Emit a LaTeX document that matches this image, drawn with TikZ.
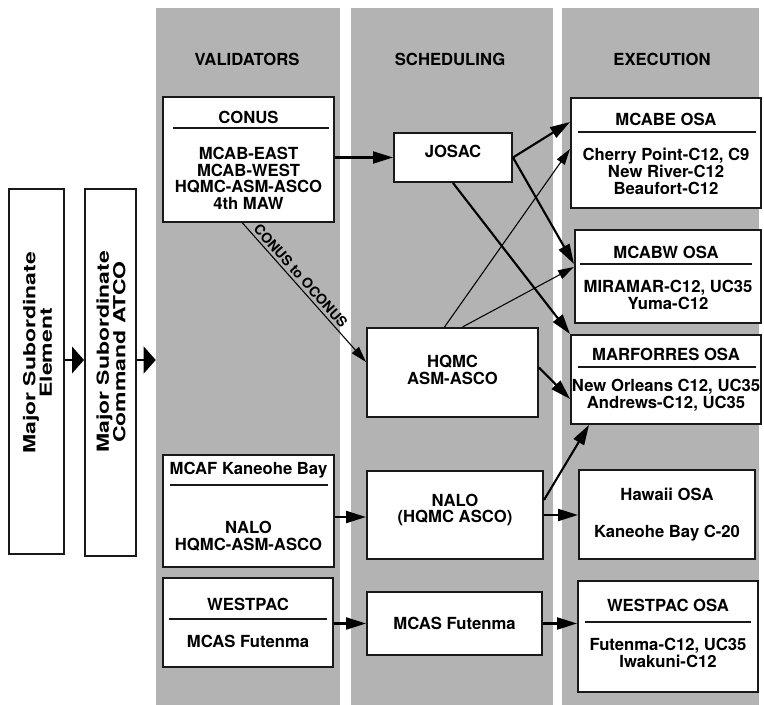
\documentclass[tikz,border=0pt]{standalone}
\usepackage{fontspec}
\setmainfont{TeX Gyre Heros}
\newfontfamily\widefont[FakeStretch=1.38]{TeX Gyre Heros}
\usetikzlibrary{arrows.meta,fit,calc}
\definecolor{colgray}{RGB}{179,179,179}
\begin{document}
\begin{tikzpicture}[x=0.75pt,y=-0.75pt,
  col/.style={fill=colgray, draw=none, inner sep=0},
  box/.style={draw=black!90, line width=1.5pt, fill=white, inner sep=0},
  txt/.style={font=\fontsize{12.5}{12.5}\selectfont\bfseries, align=center, inner sep=0},
  rot/.style={font=\fontsize{12.5}{12.5}\selectfont\widefont\bfseries, align=center, inner sep=0, rotate=90},
  divl/.style={line width=1.5pt, black!90},
  arr/.style={line width=1.6pt, -{Triangle[length=15pt,width=9pt]}},
  tarr/.style={line width=0.8pt, -{Triangle[length=12pt,width=7pt]}},
  bigarr/.style={line width=1.5pt, -{Triangle[length=9pt,width=20pt]}},
  lbl/.style={font=\fontsize{10.5}{10.5}\selectfont\bfseries, inner sep=2pt}
]
\useasboundingbox (0,0) rectangle (764,705);

% columns
\node[col, fit={(156,8)(340,705)}] (valcol) {};
\node[col, fit={(351,8)(553,705)}] (schcol) {};
\node[col, fit={(562,8)(759,705)}] (execol) {};

\node[txt] (h1) at (247,59) {VALIDATORS};
\node[txt] (h2) at (450,59) {SCHEDULING};
\node[txt] (h3) at (662,59) {EXECUTION};

% left vertical boxes
\node[box, fit={(9,189)(64,554)}] (mse) {};
\node[box, fit={(85,189)(136,556)}] (msc) {};
\node[rot] (mset) at (37.5,353) {Major Subordinate\\Element};
\node[rot] (msct) at (111,352) {Major Subordinate\\Command ATCO};
\coordinate (ay) at (0,360);
\draw[bigarr] (mse.east |- ay) -- (msc.west |- ay);
\draw[bigarr] (msc.east |- ay) -- (valcol.west |- ay);

% validators
\node[box, fit={(163,97)(334,222)}] (conus) {};
\node[txt] (conust) at (248.5,117) {CONUS};
\draw[divl] (173,128) -- (329,128);
\node[txt] (conusb) at (248.5,178.5) {MCAB-EAST\\MCAB-WEST\\HQMC-ASM-ASCO\\4th MAW};

\node[box, fit={(163,455)(334,567)}] (mcaf) {};
\node[txt] (mcaft) at (248.5,470) {MCAF Kaneohe Bay};
\draw[divl] (170,485) -- (328,485);
\node[txt] (mcafb) at (248.5,536) {NALO\\HQMC-ASM-ASCO};

\node[box, fit={(163,578)(333,667)}] (westpac) {};
\node[txt] (westpact) at (248,604) {WESTPAC};
\draw[divl] (169,619) -- (327,619);
\node[txt] (westpacb) at (248,641) {MCAS Futenma};

% scheduling
\node[box, fit={(394,133)(512,182)}, txt] (josac) {JOSAC};
\node[box, fit={(367,328)(538,417)}] (hqmc) {};
\node[txt] (hqmct) at (452.5,370) {HQMC\\ASM-ASCO};
\node[box, fit={(367,471)(543,559)}] (nalo) {};
\node[txt] (nalot) at (455,510) {NALO\\(HQMC ASCO)};
\node[box, fit={(367,592)(542,655)}] (mcas) {};
\node[txt] (mcast) at (454.5,623) {MCAS Futenma};

% execution
\node[box, fit={(571,98)(761,208)}] (mcabe) {};
\node[txt] (mcabet) at (666,119) {MCABE OSA};
\draw[divl] (578,132) -- (756,132);
\node[txt] (mcabeb) at (666,171.5) {Cherry Point-C12, C9\\New River-C12\\Beaufort-C12};

\node[box, fit={(575,230)(761,323)}] (mcabw) {};
\node[txt] (mcabwt) at (666,252.5) {MCABW OSA};
\draw[divl] (580,264) -- (752,264);
\node[txt] (mcabwb) at (668,295) {MIRAMAR-C12, UC35\\Yuma-C12};

\node[box, fit={(571,335)(761,424)}] (marf) {};
\node[txt] (marft) at (666,354) {MARFORRES OSA};
\draw[divl] (578,367) -- (756,367);
\node[txt] (marfb) at (666,395) {New Orleans C12, UC35\\Andrews-C12, UC35};

\node[box, fit={(579,470)(755,559)}] (hawaii) {};
\node[txt] (hawaiit) at (667,494) {Hawaii OSA};
\node[txt] (hawaiib) at (667,533) {Kaneohe Bay C-20};

\node[box, fit={(578,581)(758,692)}] (wosa) {};
\node[txt] (wosat) at (668,605) {WESTPAC OSA};
\draw[divl] (585,622) -- (751,622);
\node[txt] (wosab) at (668,653) {Futenma-C12, UC35\\Iwakuni-C12};

% connectors
\draw[arr] (conus.east |- josac) -- (josac);
\draw[arr] (josac.east) -- ($(mcabe.north west)+(0,25)$);
\draw[arr] (josac.east) -- ($(mcabw.north west)+(0,35)$);
\draw[arr] (josac.south) -- (marf.north west);
\draw[tarr] ($(hqmc.north)+(-8,0)$) -- ($(mcabe.north west)+(0,52)$);
\draw[tarr] ($(hqmc.north)+(10,0)$) -- ($(mcabw.north west)+(0,38)$);
\draw[arr] ($(hqmc.east)+(0,-5)$) -- ($(marf.north west)+(0,65)$);
\draw[tarr] ($(conus.south)+(-6,0)$) -- node[lbl, sloped, above, pos=0.42] (c2o) {CONUS to OCONUS} ($(hqmc.north west)+(0,35)$);

\draw[arr] (mcaf.east |- 0,517) -- (nalo.west |- 0,517);
\draw[arr] (nalo.east |- 0,515) -- (hawaii.west |- 0,515);
\draw[arr] ($(nalo.north east)+(0,30)$) -- ($(marf.south west)+(19,0)$);

\draw[arr] (westpac.east |- mcas) -- (mcas);
\draw[arr] (mcas.east) -- (wosa.west |- mcas);
\end{tikzpicture}
\end{document}
